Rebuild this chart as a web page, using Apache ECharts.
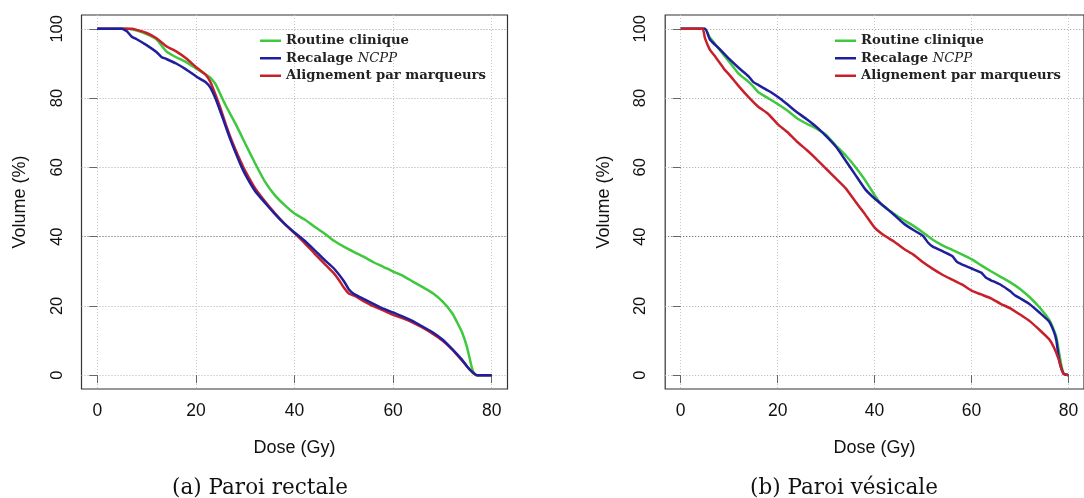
<!DOCTYPE html>
<html>
<head>
<meta charset="utf-8">
<script src="https://cdn.jsdelivr.net/npm/echarts@6/dist/echarts.min.js"></script>
<style>
html,body{margin:0;padding:0;background:#fff;}
#chart{width:1084px;height:498px;}
</style>
</head>
<body>
<div id="chart"></div>
<script>
// ---------- tick labels ----------
const doseTicks = [0, 20, 40, 60, 80];
const volumeTicks = [0, 20, 40, 60, 80, 100];

// ---------- series names ----------
const seriesNames = ['Routine clinique', 'Recalage NCPP', 'Alignement par marqueurs'];
const captions = ['(a) Paroi rectale', '(b) Paroi vésicale'];

// ---------- (a) Paroi rectale ----------
const rectRoutineDose = [0, 6, 8, 10, 12, 14, 16, 18, 20, 22, 23, 24, 25, 26, 28, 30, 32, 34, 36, 38, 40, 42, 44, 46, 48, 50, 52, 54, 56, 58, 60, 62, 64, 66, 68, 70, 72, 73, 74, 75, 76, 76.5, 77, 80];
const rectRoutineVol  = [100, 100, 99.5, 98.5, 97, 93.5, 91.8, 90.4, 88.6, 86.8, 85.8, 84, 81, 78, 72.7, 66.9, 61.2, 55.9, 52, 49.1, 46.7, 45, 42.9, 41, 38.8, 37.1, 35.6, 34.2, 32.6, 31.3, 29.9, 28.7, 27, 25.4, 23.7, 21.3, 17.9, 15.2, 12.3, 8, 2, 0.3, 0, 0];

const rectNcppDose = [0, 5, 6, 7, 8, 10, 12, 13, 14, 16, 18, 20, 22, 23, 24, 25, 26, 27, 28, 29, 30, 32, 34, 36, 38, 40, 42, 44, 46, 48, 50, 51, 52, 54, 56, 58, 60, 62, 64, 66, 68, 70, 72, 74, 75, 76, 77, 80];
const rectNcppVol  = [100, 100, 99.3, 97.7, 97, 95.3, 93.3, 91.9, 91.3, 90, 88.3, 86.3, 84.6, 82.9, 79.8, 76, 72, 68, 64.4, 61, 58, 53.2, 49.8, 46.6, 43.7, 41.2, 38.9, 36.2, 33.4, 30.8, 27.2, 24.8, 23.5, 22, 20.6, 19.2, 18.1, 16.9, 15.6, 14, 12.4, 10.3, 7.5, 4.4, 2.5, 1, 0, 0];

const rectMarkDose = [0, 7, 8, 10, 12, 14, 16, 18, 20, 22, 23, 24, 25, 26, 27, 28, 29, 30, 32, 34, 36, 38, 40, 42, 44, 46, 48, 49, 50, 51, 52, 54, 56, 58, 60, 62, 64, 66, 68, 70, 72, 74, 75, 76, 77, 80];
const rectMarkVol  = [100, 100, 99.7, 98.8, 97.3, 95, 93.5, 91.5, 89, 86.7, 84.5, 80.9, 77, 72.7, 68.7, 65.2, 62, 59, 54, 50.2, 46.8, 43.7, 41, 38.2, 35.2, 32.3, 29.4, 27.5, 25.3, 23.6, 23, 21.4, 19.9, 18.7, 17.4, 16.4, 15.2, 13.7, 12, 10, 7.4, 4.2, 2.5, 0.9, 0, 0];

// ---------- (b) Paroi vésicale ----------
const vesRoutineDose = [0, 5, 6, 7, 8, 10, 12, 14, 15, 16, 18, 20, 22, 24, 26, 28, 30, 32, 34, 36, 38, 40, 41, 42, 44, 46, 48, 50, 52, 54, 56, 58, 60, 62, 64, 66, 68, 70, 72, 74, 76, 77, 77.5, 78, 78.5, 79, 80];
const vesRoutineVol  = [100, 100, 97.5, 95.8, 94, 90.5, 87, 84.7, 83.3, 81.7, 80, 78.3, 76.4, 74.2, 72.6, 71.2, 69.4, 66.3, 63.5, 60.2, 56.4, 52, 49.9, 48.6, 46.6, 44.8, 43.1, 41.2, 39.1, 37.5, 36.2, 34.9, 33.5, 31.7, 30, 28.4, 26.8, 24.9, 22.5, 19.6, 16, 13, 11, 7, 3, 0.5, 0];

const vesNcppDose = [0, 5, 6, 7, 8, 10, 12, 14, 15, 16, 18, 20, 22, 24, 26, 28, 30, 32, 34, 36, 38, 40, 42, 44, 46, 48, 50, 51, 52, 54, 56, 57, 58, 60, 62, 63, 64, 66, 68, 69, 70, 72, 74, 76, 77, 77.5, 78, 78.5, 79, 80];
const vesNcppVol  = [100, 100, 97, 95.5, 94.2, 91.3, 88.7, 86.3, 84.6, 83.8, 82.2, 80.4, 78.2, 75.9, 73.9, 71.7, 69, 66, 62, 57.9, 53.8, 51, 48.7, 46.3, 43.8, 41.9, 40.2, 38.3, 37.1, 35.8, 34.4, 32.7, 32, 30.8, 29.6, 28.1, 27.4, 26.1, 24.2, 23, 22.2, 20.5, 18.1, 15.5, 12.5, 10, 5, 2, 0.4, 0];

const vesMarkDose = [0, 4.5, 5, 6, 7, 8, 9, 10, 12, 14, 16, 18, 20, 22, 24, 26, 28, 30, 32, 34, 36, 38, 40, 42, 44, 46, 48, 50, 52, 54, 56, 58, 60, 62, 64, 66, 68, 70, 72, 74, 76, 77, 78, 78.5, 79, 80];
const vesMarkVol  = [100, 100, 97.3, 94, 92.2, 90.3, 88.3, 86.8, 83.4, 80.3, 77.5, 75.5, 72.5, 70.2, 67.4, 65, 62.4, 59.6, 56.8, 54, 50.2, 46.5, 42.6, 40.3, 38.6, 36.5, 34.8, 32.6, 30.7, 29, 27.6, 26.2, 24.4, 23.3, 22.2, 20.6, 19.3, 17.5, 15.6, 13.1, 10.4, 8, 4.5, 2, 0.3, 0];

// ---------- helpers / styles ----------
const zip = (xs, ys) => xs.map((x, i) => [x, ys[i]]);
const colors = { routine: '#3ec83e', ncpp: '#1f1f9e', mark: '#c8202a' };
const SANS = 'Liberation Sans, Arial, Helvetica, sans-serif';
const SERIF = 'DejaVu Serif, serif';

const grids = [
  { left: 81.5, top: 15, width: 426, height: 374 },
  { left: 665.2, top: 15, width: 426.6, height: 374 }
];

function xAxisFor(i) {
  return {
    type: 'value', gridIndex: i, min: -3.2, max: 83.2,
    name: 'Dose (Gy)', nameLocation: 'middle', nameGap: 50,
    nameTextStyle: { fontFamily: SANS, fontSize: 18, color: '#111' },
    axisLine: { show: false },
    axisTick: { show: true, length: 8, customValues: doseTicks, lineStyle: { color: '#666', width: 1 } },
    axisLabel: { customValues: doseTicks, margin: 13, fontFamily: SANS, fontSize: 17.5, color: '#111' },
    splitLine: { show: true, lineStyle: { color: '#c4c4c4', type: [1, 2], width: 1 } }
  };
}
function yAxisFor(i) {
  return {
    type: 'value', gridIndex: i, min: -4, max: 104,
    name: 'Volume (%)', nameLocation: 'middle', nameGap: 52, nameRotate: 90,
    nameTextStyle: { fontFamily: SANS, fontSize: 18, color: '#111' },
    axisLine: { show: false },
    axisTick: { show: true, length: 8, customValues: volumeTicks, lineStyle: { color: '#666', width: 1 } },
    axisLabel: { customValues: volumeTicks, rotate: 90, margin: 16, fontFamily: SANS, fontSize: 16.5, color: '#111' },
    splitLine: { show: true, lineStyle: { color: ['#b4b4b4', '#a8a8a8', '#555555', '#a8a8a8', '#a8a8a8', '#999999'], type: [1, 2], width: 1 } }
  };
}

function line(name, color, data, idx) {
  return {
    type: 'line', name: name, xAxisIndex: idx, yAxisIndex: idx,
    data: data, showSymbol: false, symbol: 'none',
    lineStyle: { color: color, width: 2.5 }, itemStyle: { color: color },
    smooth: 0.15, animation: false, silent: true
  };
}

function legendFor(left) {
  return {
    orient: 'vertical', left: left, top: 32, itemGap: 0, padding: 0,
    itemWidth: 21, itemHeight: 2.5, icon: 'rect', selectedMode: false,
    data: seriesNames,
    formatter: n => n === 'Recalage NCPP' ? 'Recalage {i|NCPP}' : n,
    textStyle: {
      fontFamily: SERIF, fontWeight: 'bold', fontSize: 13.2, color: '#222', lineHeight: 17.5,
      rich: { i: { fontFamily: SERIF, fontStyle: 'italic', fontWeight: 'normal', fontSize: 13.2, lineHeight: 17.5, color: '#222' } }
    }
  };
}

const chart = echarts.init(document.getElementById('chart'), null, { renderer: 'canvas' });
chart.setOption({
  backgroundColor: '#ffffff',
  animation: false,
  title: [
    { text: captions[0], left: 255, top: 472, textAlign: 'center', textStyle: { fontFamily: SERIF, fontWeight: 'normal', fontSize: 21.5, color: '#111' } },
    { text: captions[1], left: 839, top: 472, textAlign: 'center', textStyle: { fontFamily: SERIF, fontWeight: 'normal', fontSize: 21.5, color: '#111' } }
  ],
  legend: [legendFor(260), legendFor(835)],
  grid: grids.map(g => Object.assign({ show: true, borderColor: '#333', borderWidth: 1.2, backgroundColor: 'transparent', containLabel: false }, g)),
  xAxis: [xAxisFor(0), xAxisFor(1)],
  yAxis: [yAxisFor(0), yAxisFor(1)],
  series: [
    line(seriesNames[0], colors.routine, zip(rectRoutineDose, rectRoutineVol), 0),
    line(seriesNames[2], colors.mark, zip(rectMarkDose, rectMarkVol), 0),
    line(seriesNames[1], colors.ncpp, zip(rectNcppDose, rectNcppVol), 0),
    line(seriesNames[0], colors.routine, zip(vesRoutineDose, vesRoutineVol), 1),
    line(seriesNames[1], colors.ncpp, zip(vesNcppDose, vesNcppVol), 1),
    line(seriesNames[2], colors.mark, zip(vesMarkDose, vesMarkVol), 1)
  ]
});
</script>
</body>
</html>
